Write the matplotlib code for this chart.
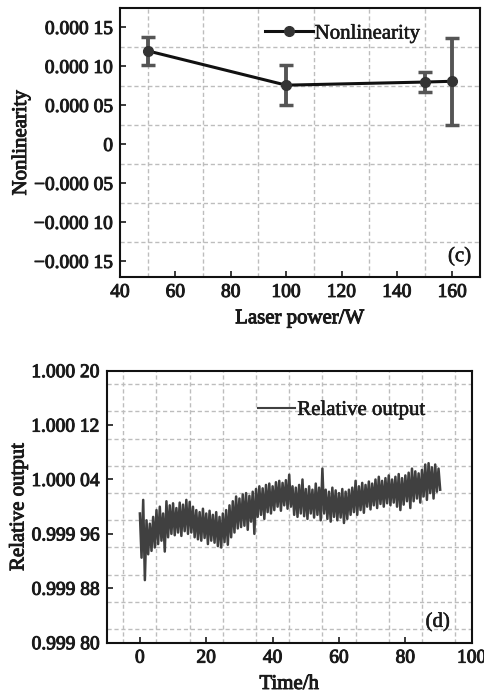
import numpy as np
import matplotlib
matplotlib.use("Agg")
import matplotlib.pyplot as plt
import matplotlib.patheffects as pe

plt.rcParams['font.family'] = ['Liberation Serif', 'DejaVu Serif']

# ---------------- data: panel (c) ----------------
laser_power = [50, 100, 150, 160]
nonlinearity = [0.000120, 0.000076, 0.000080, 0.000081]
nonlin_err = [0.000018, 0.000026, 0.000013, 0.000056]

c_xticks = [40, 60, 80, 100, 120, 140, 160]
c_yticks = [-0.00015, -0.00010, -0.00005, 0, 0.00005, 0.00010, 0.00015]
c_yticklabels = ["\u22120.000 15", "\u22120.000 10", "\u22120.000 05", "0",
                 "0.000 05", "0.000 10", "0.000 15"]
c_xgrid = [50, 70, 90, 110, 130, 150]
c_ygrid = [-0.000125, -0.000075, -0.000025, 0.000025, 0.000075, 0.000125]

# ---------------- data: panel (d) ----------------
# relative output offsets from 1, in units of 1e-5, sampled every 0.5 h
offset_1e5 = [
    -1.0, -7.5, 1.0, -10.8, -2.0, -7.0, -2.5, -6.5, -1.5, -6.0,
    -0.5, -5.5, 0.0, -5.0, -1.0, -6.6, 0.8, -4.5, 0.2, -4.0,
    0.5, -4.2, -0.2, -3.8, 0.6, -4.3, 0.3, -3.6, 1.0, -4.0,
    0.7, -3.8, 0.0, -4.5, -0.5, -4.8, -0.8, -5.0, -0.3, -4.6,
    -1.0, -5.5, -0.6, -5.0, -1.2, -5.3, -0.8, -5.8, -1.5, -6.0,
    -1.0, -5.2, -0.5, -5.6, 0.2, -4.5, 0.8, -3.8, 1.5, -3.2,
    1.2, -3.0, 1.8, -2.8, 2.0, -3.4, 1.6, -2.2, 2.2, -4.0,
    2.6, -1.5, 3.0, -1.2, 2.7, -1.8, 3.2, -0.8, 3.4, -1.0,
    3.0, -0.5, 3.6, 0.0, 3.8, -0.6, 3.5, 0.2, 3.9, -0.3,
    4.7, 0.0, 3.0, -1.2, 2.8, -1.5, 3.2, -1.0, 4.0, -1.4,
    2.6, -1.8, 3.0, -1.0, 2.5, -1.6, 3.4, -1.2, 2.8, -2.0,
    5.6, -1.0, 2.5, -1.8, 2.2, -2.2, 2.8, -1.5, 2.4, -2.0,
    2.0, -1.6, 2.6, -2.4, 2.2, -1.8, 2.5, -1.2, 2.8, -0.8,
    3.8, -1.2, 3.0, -0.5, 3.5, -0.9, 3.2, 0.0, 3.7, -0.4,
    3.4, 0.2, 4.0, -0.2, 4.4, 0.4, 3.8, 0.0, 4.2, 0.5,
    4.6, 0.2, 4.0, 0.6, 4.4, 0.0, 4.8, -0.5, 4.2, 0.3,
    4.6, 0.8, 5.0, -0.2, 5.6, 0.8, 5.2, 1.2, 4.9, 0.6,
    5.4, 1.5, 6.2, 1.0, 6.4, 2.0, 5.8, 1.2, 6.2, 2.2,
    5.6, 2.5,
]
time_h = np.arange(len(offset_1e5)) * 0.5
relative_output = 1 + np.array(offset_1e5) * 1e-5

d_xticks = [0, 20, 40, 60, 80, 100]
d_yticks = [0.99980, 0.99988, 0.99996, 1.00004, 1.00012, 1.00020]
d_yticklabels = ["0.999 80", "0.999 88", "0.999 96", "1.000 04", "1.000 12", "1.000 20"]
d_xgrid = [-5, 5, 15, 25, 35, 45, 55, 65, 75, 85, 95]
d_ygrid = [0.99982, 0.99986, 0.99990, 0.99994, 0.99998,
           1.00002, 1.00006, 1.00010, 1.00014, 1.00018]

# ---------------- figure ----------------
fig = plt.figure(figsize=(4.85, 6.93), dpi=100)
TICK_FS = 14
LABEL_FS = 15
TEXT_COLOR = '#1a1a1a'
HEAVY = [pe.withStroke(linewidth=0.7, foreground=TEXT_COLOR)]
GRID_KW = dict(color='#bdbdbd', linestyle=(0, (3, 2)), linewidth=1.0)


def style_axes(ax):
    for s in ax.spines.values():
        s.set_linewidth(1.5)
        s.set_color('#111111')
    ax.tick_params(direction='in', length=4, width=1.2, which='major',
                   top=False, right=False, labelsize=TICK_FS, pad=5,
                   colors=TEXT_COLOR)
    ax.tick_params(which='minor', length=0)
    for lab in ax.get_xticklabels() + ax.get_yticklabels():
        lab.set_path_effects(HEAVY)
    ax.set_axisbelow(True)
    ax.grid(which='minor', **GRID_KW)
    ax.grid(which='major', visible=False)


# panel (c)
ax1 = fig.add_axes([0.2474, 0.6003, 0.7423, 0.3882])
ax1.errorbar(laser_power, nonlinearity, yerr=nonlin_err, fmt='none',
             ecolor='#555555', elinewidth=2.8, capsize=5, capthick=2.5, zorder=3)
ax1.plot(laser_power, nonlinearity, color='#111111', linewidth=2.2,
         marker='o', markersize=7, markerfacecolor='#333333',
         markeredgecolor='#333333', label='Nonlinearity', zorder=4)
ax1.set_xlim(40, 170)
ax1.set_ylim(-0.00017, 0.000175)
ax1.set_xticks(c_xticks)
ax1.set_yticks(c_yticks)
ax1.set_yticklabels(c_yticklabels)
ax1.set_xticks(c_xgrid, minor=True)
ax1.set_yticks(c_ygrid, minor=True)
style_axes(ax1)
ax1.set_xlabel('Laser power/W', fontsize=LABEL_FS, labelpad=6, color=TEXT_COLOR,
               path_effects=HEAVY)
ax1.set_ylabel('Nonlinearity', fontsize=LABEL_FS, labelpad=2, color=TEXT_COLOR,
               path_effects=HEAVY)
leg1 = ax1.legend(loc='upper right', frameon=False, fontsize=LABEL_FS,
                  handlelength=2.3, handletextpad=0.1, bbox_to_anchor=(0.887, 1.01))
for t in leg1.get_texts():
    t.set_color(TEXT_COLOR)
    t.set_path_effects([pe.withStroke(linewidth=0.4, foreground=TEXT_COLOR)])
ax1.text(0.975, 0.04, '(c)', transform=ax1.transAxes, ha='right', va='bottom',
         fontsize=LABEL_FS, color=TEXT_COLOR,
         path_effects=[pe.withStroke(linewidth=0.4, foreground=TEXT_COLOR)])

# panel (d)
ax2 = fig.add_axes([0.2200, 0.0726, 0.7526, 0.3925])
ax2.plot(time_h, relative_output, color='#404040', linewidth=1.8,
         label='Relative output', zorder=3)
ax2.set_xlim(-10, 100)
ax2.set_ylim(0.99980, 1.00020)
ax2.set_xticks(d_xticks)
ax2.set_yticks(d_yticks)
ax2.set_yticklabels(d_yticklabels)
ax2.set_xticks(d_xgrid, minor=True)
ax2.set_yticks(d_ygrid, minor=True)
style_axes(ax2)
ax2.set_xlabel('Time/h', fontsize=LABEL_FS, labelpad=6, color=TEXT_COLOR,
               path_effects=HEAVY)
ax2.set_ylabel('Relative output', fontsize=LABEL_FS, labelpad=2, color=TEXT_COLOR,
               path_effects=HEAVY)
leg2 = ax2.legend(loc='upper right', frameon=False, fontsize=LABEL_FS,
                  handlelength=1.8, handletextpad=0.1, bbox_to_anchor=(0.926, 0.96))
for t in leg2.get_texts():
    t.set_color(TEXT_COLOR)
    t.set_path_effects([pe.withStroke(linewidth=0.4, foreground=TEXT_COLOR)])
leg2.get_lines()[0].set_linewidth(1.5)
ax2.text(0.94, 0.04, '(d)', transform=ax2.transAxes, ha='right', va='bottom',
         fontsize=LABEL_FS, color=TEXT_COLOR,
         path_effects=[pe.withStroke(linewidth=0.4, foreground=TEXT_COLOR)])

fig.savefig('out.png', dpi=100)
